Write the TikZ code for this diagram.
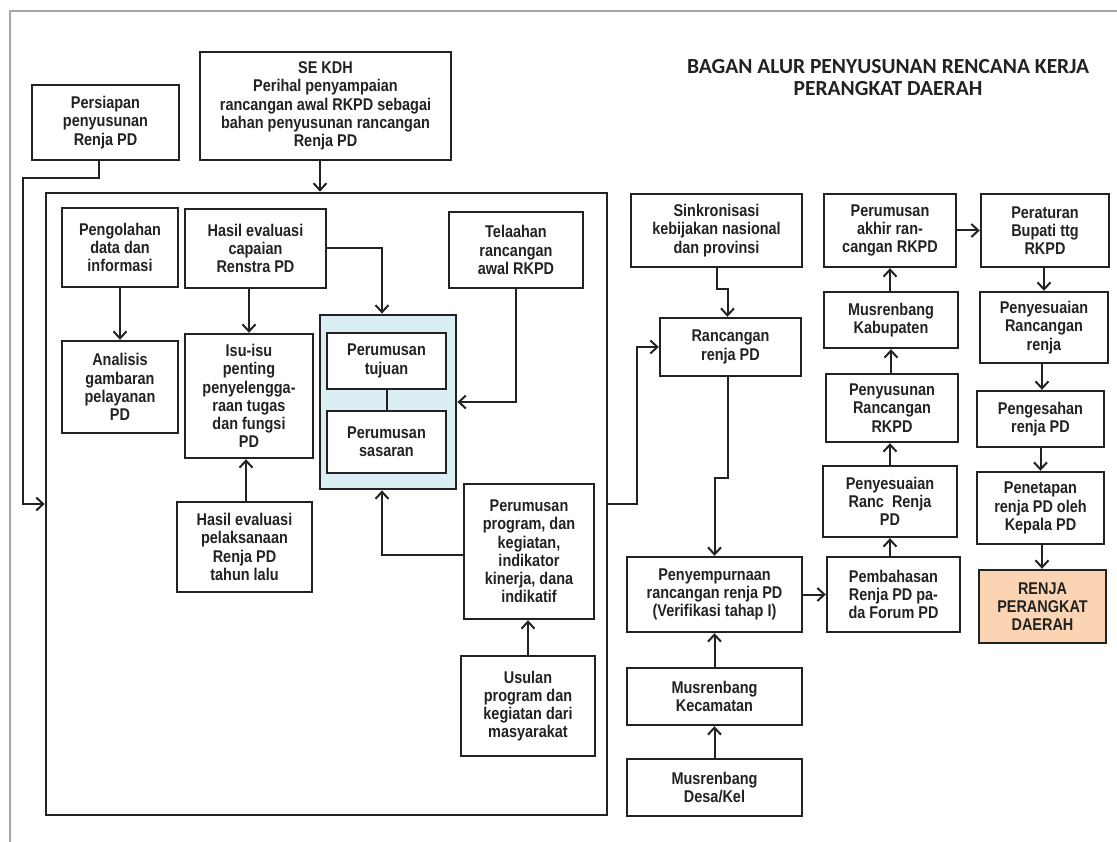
\documentclass[tikz,border=0pt]{standalone}
\usepackage{fontspec}
\setmainfont{Liberation Sans}
\newfontfamily\narrowfont{Liberation Sans}[FakeStretch=0.85]
\newfontfamily\titlefont{Carlito}
\usetikzlibrary{arrows.meta}
\definecolor{ink}{HTML}{222222}
\definecolor{bluefill}{HTML}{DAEEF3}
\definecolor{peach}{HTML}{FBD4B4}
\tikzset{
  box/.style={draw=ink, line width=2.4pt, align=center, inner sep=0pt, text=ink,
    font=\narrowfont\bfseries\fontsize{17}{18.2}\selectfont},
  conn/.style={draw=ink, line width=2pt},
  arr/.style={conn, -{Straight Barb[length=7pt,width=13pt]}},
}
\begin{document}
\begin{tikzpicture}[x=1pt,y=-1pt]
\useasboundingbox (0,0) rectangle (1117,842);
\draw[gray!70, line width=2pt] (10,842) -- (10,11) -- (1117,11);

\node[text=ink, font=\titlefont\bfseries\fontsize{21.5}{22}\selectfont, align=center] (title) at (888,78)
  {BAGAN ALUR PENYUSUNAN RENCANA KERJA\\PERANGKAT DAERAH};

\node[box, minimum width=147, minimum height=75] (pers) at (105.5,122.5) {Persiapan\\penyusunan\\Renja PD};
\node[box, minimum width=251, minimum height=108] (sekdh) at (325.5,106) {SE KDH\\Perihal penyampaian\\rancangan awal RKPD sebagai\\bahan penyusunan rancangan\\Renja PD};
\node[draw=ink, line width=2.6pt, minimum width=561, minimum height=622, inner sep=0pt] (frame) at (326.5,504) {};

\node[box, minimum width=116, minimum height=79] (peng) at (120,247.5) {Pengolahan\\data dan\\informasi};
\node[box, minimum width=141, minimum height=79] (capaian) at (255.5,248.5) {Hasil evaluasi\\capaian\\Renstra PD};
\node[box, minimum width=134, minimum height=76] (telaah) at (516,250) {Telaahan\\rancangan\\awal RKPD};
\node[box, minimum width=116, minimum height=92] (analisis) at (120,387) {Analisis\\gambaran\\pelayanan\\PD};
\node[box, minimum width=128, minimum height=124] (isu) at (249,396) {Isu-isu\\penting\\penyelengga-\\raan tugas\\dan fungsi\\PD};
\node[box, fill=bluefill, line width=2.8pt, minimum width=136, minimum height=174] (blue) at (388,402) {};
\node[box, fill=white, minimum width=119, minimum height=56] (tujuan) at (386.5,361) {Perumusan\\tujuan};
\node[box, fill=white, minimum width=119, minimum height=62] (sasaran) at (386.5,442) {Perumusan\\sasaran};
\node[box, minimum width=135, minimum height=90] (pelaks) at (244.5,547) {Hasil evaluasi\\pelaksanaan\\Renja PD\\tahun lalu};
\node[box, minimum width=130, minimum height=135] (prog) at (529,551.5) {Perumusan\\program, dan\\kegiatan,\\indikator\\kinerja, dana\\indikatif};
\node[box, minimum width=134, minimum height=100] (usulan) at (528,706) {Usulan\\program dan\\kegiatan dari\\masyarakat};

\node[box, minimum width=171, minimum height=73] (sinkr) at (716.5,230.5) {Sinkronisasi\\kebijakan nasional\\dan provinsi};
\node[box, minimum width=141, minimum height=58] (ranc) at (730.5,347) {Rancangan\\renja PD};
\node[box, minimum width=175, minimum height=75] (penyemp) at (714.5,594.5) {Penyempurnaan\\rancangan renja PD\\(Verifikasi tahap I)};
\node[box, minimum width=175, minimum height=57] (kec) at (714.5,696.5) {Musrenbang\\Kecamatan};
\node[box, minimum width=175, minimum height=57] (desa) at (714.5,787.5) {Musrenbang\\Desa/Kel};

\node[box, minimum width=132, minimum height=73] (akhir) at (890,230.5) {Perumusan\\akhir ran-\\cangan RKPD};
\node[box, minimum width=134, minimum height=56] (kab) at (891,320) {Musrenbang\\Kabupaten};
\node[box, minimum width=132, minimum height=68] (penyus) at (892,408) {Penyusunan\\Rancangan\\RKPD};
\node[box, minimum width=134, minimum height=71] (penyranc) at (890,501.5) {Penyesuaian\\Ranc\ \ Renja\\PD};
\node[box, minimum width=133, minimum height=75] (pembah) at (893.5,594.5) {Pembahasan\\Renja PD pa-\\da Forum PD};

\node[box, minimum width=128, minimum height=73] (perbup) at (1045,230.5) {Peraturan\\Bupati ttg\\RKPD};
\node[box, minimum width=128, minimum height=71] (penyrenja) at (1044,327.5) {Penyesuaian\\Rancangan\\renja};
\node[box, minimum width=127, minimum height=56] (sah) at (1040.5,419) {Pengesahan\\renja PD};
\node[box, minimum width=127, minimum height=72] (tetap) at (1040.5,508) {Penetapan\\renja PD oleh\\Kepala PD};
\node[box, fill=peach, minimum width=127, minimum height=73] (renja) at (1042.5,606.5) {RENJA\\PERANGKAT\\DAERAH};

% connectors
\draw[arr] ([xshift=-6.5pt]pers.south) -- ++(0,17) -| ([xshift=-22pt]frame.west) -- (frame.west);
\draw[arr] (sekdh.south -| 320,0) -- (frame.north -| 320,0);
\draw[arr] (peng.south) -- (analisis.north);
\draw[arr] (capaian.south -| isu.north) -- (isu.north);
\draw[arr] (capaian.east) -| ([xshift=-6pt]blue.north);
\draw[arr] (telaah.south) |- (blue.east);
\draw[conn] (tujuan.south) -- (sasaran.north);
\draw[arr] (pelaks.north -| 246,0) -- (isu.south -| 246,0);
\draw[arr] ([yshift=-3pt]prog.west) -| ([xshift=-6pt]blue.south);
\draw[arr] (usulan.north) -- (prog.south -| usulan.north);

\draw[arr] (frame.east) -- ++(29,0) |- (ranc.west);
\draw[arr] (sinkr.south) -- ++(0,21) -| ([xshift=-3pt]ranc.north);
\draw[arr] ([xshift=-3pt]ranc.south) -- ++(0,101) -| (penyemp.north);
\draw[arr] (kec.north) -- (penyemp.south);
\draw[arr] (desa.north) -- (kec.south);
\draw[arr] (penyemp.east) -- (pembah.west);
\draw[arr] (pembah.north -| penyranc.south) -- (penyranc.south);
\draw[arr] (penyranc.north) -- (penyus.south -| penyranc.north);
\draw[arr] (penyus.north -| kab.south) -- (kab.south);
\draw[arr] (kab.north -| akhir.south) -- (akhir.south);
\draw[arr] (akhir.east) -- (perbup.west);
\draw[arr] (perbup.south -| penyrenja.north) -- (penyrenja.north);
\draw[arr] (penyrenja.south -| 1042,0) -- (sah.north -| 1042,0);
\draw[arr] (sah.south) -- (tetap.north);
\draw[arr] (tetap.south -| 1042,0) -- (renja.north -| 1042,0);
\end{tikzpicture}
\end{document}
